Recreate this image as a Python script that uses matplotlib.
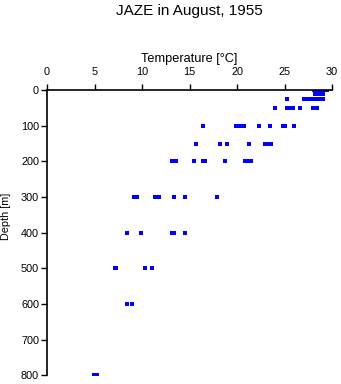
import matplotlib
matplotlib.use("Agg")
import matplotlib.pyplot as plt

plt.rcParams['font.family'] = ['Liberation Sans', 'DejaVu Sans']

# depth [m] and temperature [C] readings, one list per depth
depths = [0, 10, 25, 50, 100, 150, 200, 300, 400, 500, 600, 800]
temps = [
    [28.1, 28.3, 28.5, 28.8, 29.0, 29.3, 29.5],
    [28.2, 28.5, 28.8, 29.0],
    [25.3, 27.0, 27.3, 27.6, 27.9, 28.2, 28.4, 28.7, 29.0],
    [24.0, 25.3, 25.6, 25.9, 26.6, 28.0, 28.4],
    [16.4, 19.9, 20.2, 20.5, 20.7, 22.3, 23.5, 24.8, 25.0, 26.0],
    [15.7, 18.2, 18.9, 21.2, 22.9, 23.2, 23.6],
    [13.1, 13.6, 15.5, 16.4, 16.6, 18.7, 20.8, 21.2, 21.5],
    [9.1, 9.5, 11.4, 11.8, 13.4, 14.5, 17.9],
    [8.4, 9.9, 13.1, 13.4, 14.5],
    [7.1, 7.3, 10.3, 11.0],
    [8.4, 8.9],
    [4.9, 5.3],
]

xticks = [0, 5, 10, 15, 20, 25, 30]
yticks = [0, 100, 200, 300, 400, 500, 600, 700, 800]

fig = plt.figure(figsize=(3.41, 3.84), dpi=100)
ax = fig.add_axes([0.138, 0.023, 0.836, 0.742])

for d, row in zip(depths, temps):
    ax.plot(row, [d] * len(row), 's', color='blue', ms=2.3, mew=0)

ax.set_xlim(0, 30)
ax.set_ylim(800, 0)
ax.set_xticks(xticks)
ax.set_yticks(yticks)
ax.xaxis.tick_top()
ax.xaxis.set_label_position('top')
ax.spines['right'].set_visible(False)
ax.spines['bottom'].set_visible(False)
ax.spines['left'].set_linewidth(1.2)
ax.spines['top'].set_linewidth(1.2)
ax.tick_params(direction='out', length=4.3, width=1, labelsize=7.8)
ax.tick_params(axis='x', pad=5)
ax.tick_params(axis='y', pad=1.5)
ax.set_xlabel('Temperature [°C]', fontsize=9.2, labelpad=3.5)
ax.set_ylabel('Depth [m]', fontsize=7.8)
ax.yaxis.set_label_coords(-0.125, 0.556)

fig.suptitle('JAZE in August, 1955', x=0.555, y=0.99, fontsize=11)

fig.savefig('out.png', dpi=100)
